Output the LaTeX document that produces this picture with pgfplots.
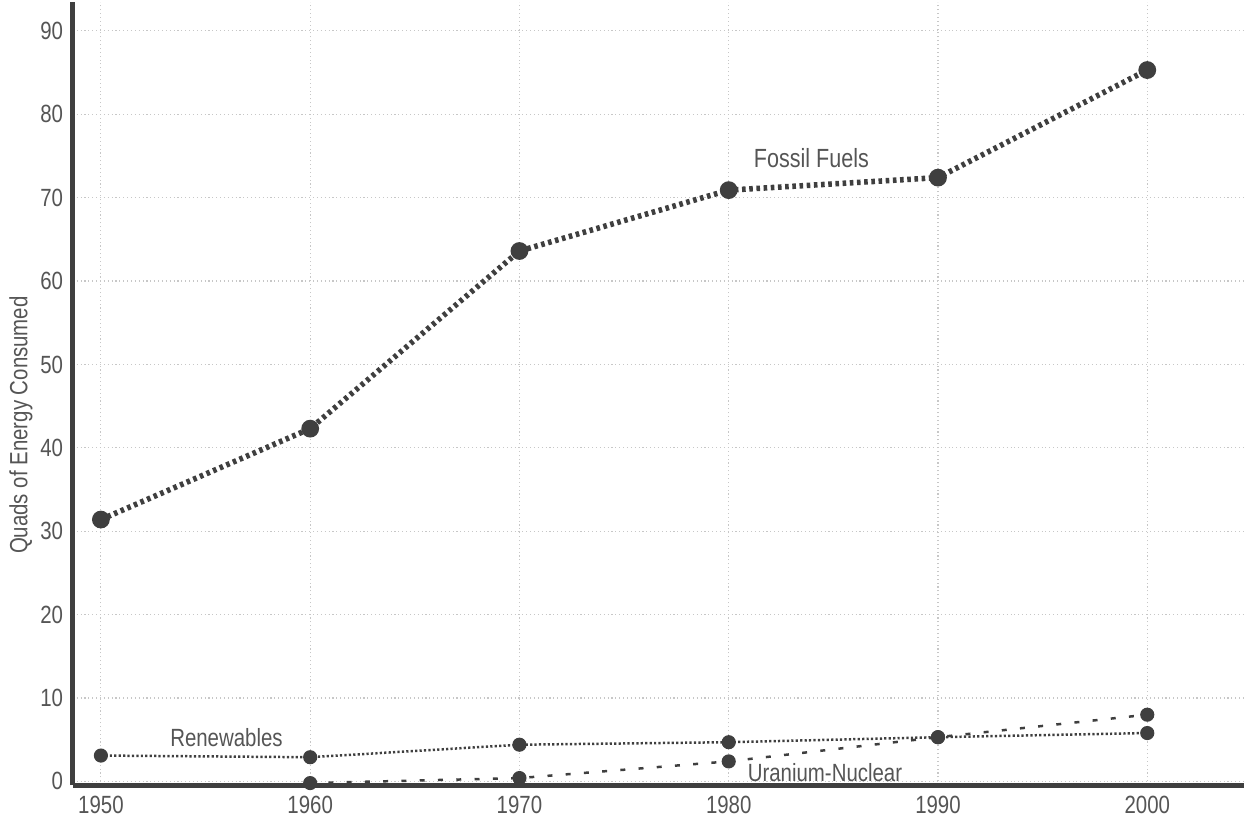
\documentclass[border=0pt]{standalone}
\usepackage{pgfplots}
\pgfplotsset{compat=1.18}
\usepackage{fontspec}
\setmainfont{Liberation Sans}[FakeStretch=0.82]
\definecolor{ln}{HTML}{3F3F3F}
\definecolor{tx}{HTML}{555555}
\begin{document}
\begin{tikzpicture}
\begin{axis}[
  scale only axis,
  width=423pt, height=282.8pt,
  xmin=1948.66, xmax=2004.6,
  ymin=-0.45, ymax=93.4,
  axis lines*=left,
  axis line style={line width=1.8pt, color=ln},
  xtick={1950,1960,...,2000},
  ytick={0,10,...,90},
  xticklabel style={/pgf/number format/1000 sep={}},
  /pgf/number format/assume math mode=true,
  tick style={draw=none},
  ticklabel style={font=\fontsize{9}{10}\selectfont, text=tx},
  xticklabel shift=0.5pt,
  yticklabel shift=0pt,
  grid=major,
  major grid style={densely dotted, color=black!22, line width=0.4pt},
  ylabel={Quads of Energy Consumed},
  ylabel style={font=\fontsize{9}{10}\selectfont, text=tx, at={(ticklabel cs:0.46)}, yshift=-4pt},
  clip=false,
]
\addplot[color=ln, line width=2pt, dash pattern=on 1.3pt off 1.3pt, mark=*, mark size=2.2pt, mark options={solid}]
 coordinates {(1950,31.4) (1960,42.3) (1970,63.6) (1980,70.9) (1990,72.4) (2000,85.3)};
\addplot[color=ln, line width=0.9pt, dash pattern=on 0.8pt off 0.8pt, mark=*, mark size=2.1pt, mark options={solid}]
 coordinates {(1950,3.1) (1960,2.9) (1970,4.4) (1980,4.7) (1990,5.3) (2000,5.8)};
\addplot[color=ln, line width=0.9pt, dash pattern=on 1.8pt off 4.8pt, mark=*, mark size=2.1pt, mark options={solid}]
 coordinates {(1960,-0.2) (1970,0.4) (1980,2.4) (1990,5.3) (2000,8.0)};
\node[font=\fontsize{9.5}{10}\selectfont, text=tx] at (axis cs:1983.95,74.8) {Fossil Fuels};
\node[font=\fontsize{9}{10}\selectfont, text=tx] at (axis cs:1956,5.3) {Renewables};
\node[font=\fontsize{9}{10}\selectfont, text=tx] at (axis cs:1984.6,1.1) {Uranium-Nuclear};
\end{axis}
\end{tikzpicture}
\end{document}
